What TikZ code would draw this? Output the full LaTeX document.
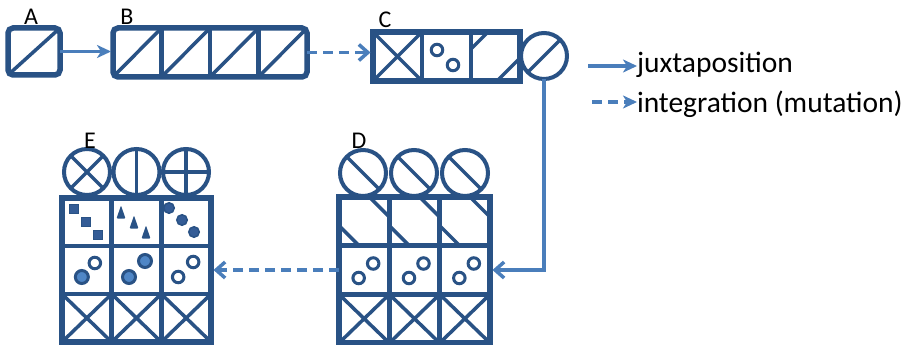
\documentclass[tikz,border=0pt]{standalone}
\usepackage{fontspec}
\setmainfont{Carlito}
\usetikzlibrary{arrows.meta,calc}
\definecolor{navy}{RGB}{41,82,133}
\definecolor{arrblue}{RGB}{74,126,187}
\definecolor{fillblue}{RGB}{79,134,198}
\definecolor{dotnavy}{RGB}{52,92,150}
\begin{document}
\begin{tikzpicture}[x=1pt,y=-1pt,
  frame/.style={draw=navy,line width=5.5pt,inner sep=0pt,outer sep=0pt},
  cellnode/.style 2 args={inner sep=0pt,outer sep=0pt,minimum width=#1,minimum height=#2},
  divider/.style={draw=navy,line width=4.5pt},
  hatch/.style={draw=navy,line width=3.5pt},
  ring/.style={circle,draw=navy,line width=4pt,minimum size=46pt,inner sep=0pt,outer sep=0pt},
  dot/.style={circle,draw=navy,line width=3pt,minimum size=11.5pt,inner sep=0pt,outer sep=0pt},
  bigdot/.style={circle,draw=navy,fill=fillblue,line width=3pt,minimum size=13pt,inner sep=0pt,outer sep=0pt},
  sqdot/.style={rectangle,draw=navy,fill=dotnavy,line width=1.5pt,minimum size=9pt,inner sep=0pt,outer sep=0pt},
  smalldot/.style={circle,draw=navy,fill=dotnavy,line width=1.5pt,minimum size=10.5pt,inner sep=0pt,outer sep=0pt},
  juxt/.style={draw=arrblue,line width=3.5pt,-{Stealth[length=14pt,width=13pt,inset=4pt]}},
  integ/.style={draw=arrblue,line width=3.5pt,dash pattern=on 10pt off 6pt,-{Stealth[length=14pt,width=13pt,inset=4pt]}},
  barb/.style={draw=arrblue,line width=3.5pt,-{Straight Barb[length=9pt,width=16pt]}},
  integbarb/.style={draw=arrblue,line width=3.5pt,dash pattern=on 10pt off 6pt,-{Straight Barb[length=9pt,width=16pt]}},
  lbl/.style={font=\fontsize{24}{24}\selectfont,inner sep=0pt,outer sep=0pt},
  legend/.style={font=\fontsize{29.5}{30}\selectfont,inner sep=0pt,outer sep=0pt,anchor=base west}
]
\useasboundingbox[fill=white] (0,0) rectangle (911,345);

% ---------- A ----------
\node[frame,rounded corners=5pt,minimum width=52pt,minimum height=47pt] (A) at (34,51.5) {};
\draw[hatch,shorten <=1.5pt,shorten >=1.5pt] (A.south west) -- (A.north east);
\node[lbl] (LA) at (31,17) {A};

% ---------- B ----------
\node[frame,rounded corners=5pt,minimum width=194pt,minimum height=49pt] (B) at (210,52.5) {};
\foreach \i/\x in {1/137.25,2/185.75,3/234.25,4/282.75}
  \node[cellnode={48.5pt}{49pt}] (B\i) at (\x,52.5) {};
\foreach \i in {1,2,3} \draw[divider] (B\i.north east) -- (B\i.south east);
\foreach \i in {1,...,4} \draw[hatch,shorten <=1pt,shorten >=1pt] (B\i.south west) -- (B\i.north east);
\node[lbl] (LB) at (127,17) {B};

% ---------- C ----------
\node[frame,minimum width=147pt,minimum height=49pt] (C) at (446.5,56.5) {};
\foreach \i/\x in {1/397.5,2/446.5,3/495.5}
  \node[cellnode={49pt}{49pt}] (C\i) at (\x,56.5) {};
\foreach \i in {1,2} \draw[divider] (C\i.north east) -- (C\i.south east);
\draw[hatch] (C1.north west) -- (C1.south east) (C1.south west) -- (C1.north east);
\node[dot] (C2a) at ($(C2)+(-9.5,-6.5)$) {};
\node[dot] (C2b) at ($(C2)+(6.5,8.5)$) {};
\draw[hatch] ($(C3.north west)+(0,17)$) -- ($(C3.north west)+(17,0)$);
\draw[hatch] ($(C3.south east)+(-23,0)$) -- ($(C3.south east)+(0,-23)$);
\node[ring] (Cc) at (544,56) {};
\draw[hatch] (Cc.south west) -- (Cc.north east);
\node[lbl] (LC) at (385,20) {C};

% ---------- D ----------
\node[frame,minimum width=151pt,minimum height=146pt] (D) at (414.5,270) {};
\foreach \r/\y in {1/221.33,2/270,3/318.67}
  \foreach \c/\x in {1/364.17,2/414.5,3/464.83}
    \node[cellnode={50.33pt}{48.67pt}] (D\r\c) at (\x,\y) {};
\draw[divider] (D11.north east) -- (D31.south east);
\draw[divider] (D12.north east) -- (D32.south east);
\draw[divider] (D11.south west) -- (D13.south east);
\draw[divider] (D21.south west) -- (D23.south east);
\foreach \c in {1,2,3} {
  \draw[hatch] ($(D1\c.north east)+(-20,0)$) -- ($(D1\c.north east)+(0,20)$);
  \draw[hatch] ($(D1\c.south west)+(0,-20)$) -- ($(D1\c.south west)+(20,0)$);
  \node[dot] (D2\c a) at ($(D2\c)+(-5.5,8)$) {};
  \node[dot] (D2\c b) at ($(D2\c)+(9,-6.5)$) {};
  \draw[hatch] (D3\c.north west) -- (D3\c.south east) (D3\c.south west) -- (D3\c.north east);
}
\foreach \c/\x in {1/363,2/414,3/465} {
  \node[ring] (Dc\c) at (\x,173) {};
  \draw[hatch] (Dc\c.north west) -- (Dc\c.south east);
}
\node[lbl] (LD) at (359,141) {D};

% ---------- E ----------
\node[frame,minimum width=149pt,minimum height=144pt] (E) at (136.5,270) {};
\foreach \r/\y in {1/222,2/270,3/318}
  \foreach \c/\x in {1/86.83,2/136.5,3/186.17}
    \node[cellnode={49.67pt}{48pt}] (E\r\c) at (\x,\y) {};
\draw[divider] (E11.north east) -- (E31.south east);
\draw[divider] (E12.north east) -- (E32.south east);
\draw[divider] (E11.south west) -- (E13.south east);
\draw[divider] (E21.south west) -- (E23.south east);
% row 1
\node[sqdot] (E11a) at (74,209) {};
\node[sqdot] (E11b) at (86,222) {};
\node[sqdot] (E11c) at (98,235) {};
\foreach \x/\y in {121/212,134/222,146/232}
  \fill[navy,rounded corners=1pt] (\x-4.5,\y+6.5) -- (\x,\y-6.5) -- (\x+4.5,\y+6.5) -- cycle;
\node[smalldot] (E13a) at (169,208) {};
\node[smalldot] (E13b) at (182,220) {};
\node[smalldot] (E13c) at (194,232) {};
% row 2
\node[bigdot] (E21a) at ($(E21)+(-5,7)$) {};
\node[dot] (E21b) at ($(E21)+(8,-7)$) {};
\node[bigdot] (E22a) at ($(E22)+(-7.5,7)$) {};
\node[bigdot] (E22b) at ($(E22)+(8.5,-9)$) {};
\node[dot] (E23a) at ($(E23)+(-8,7)$) {};
\node[dot] (E23b) at ($(E23)+(7,-8)$) {};
% row 3
\foreach \c in {1,2,3}
  \draw[hatch] (E3\c.north west) -- (E3\c.south east) (E3\c.south west) -- (E3\c.north east);
% circles
\node[ring] (Ec1) at (87,172) {};
\draw[hatch] (Ec1.north west) -- (Ec1.south east) (Ec1.south west) -- (Ec1.north east);
\node[ring] (Ec2) at (136.5,172) {};
\draw[hatch] (Ec2.north) -- (Ec2.south);
\node[ring] (Ec3) at (186,172) {};
\draw[hatch] (Ec3.north) -- (Ec3.south) (Ec3.west) -- (Ec3.east);
\node[lbl] (LE) at (90,141) {E};

% ---------- connectors ----------
\draw[juxt,shorten >=2pt] (A.east) -- (A.east -| B.west);
\draw[integbarb,shorten >=2.5pt] (B.east) -- (B.east -| C.west);
\draw[barb,shorten >=2.5pt] (Cc.south) |- (D23.east);
\draw[integbarb,shorten >=2.5pt] (D21.west) -- (E23.east);

% ---------- legend ----------
\node[legend] (juxtext) at (637,73) {juxtaposition};
\node[legend] (integtext) at (637,112) {integration (mutation)};
\coordinate (j0) at (588,66);
\coordinate (i0) at (592,102);
\draw[juxt] (j0) -- (j0 -| juxtext.west);
\draw[integ] (i0) -- (i0 -| integtext.west);
\end{tikzpicture}
\end{document}
